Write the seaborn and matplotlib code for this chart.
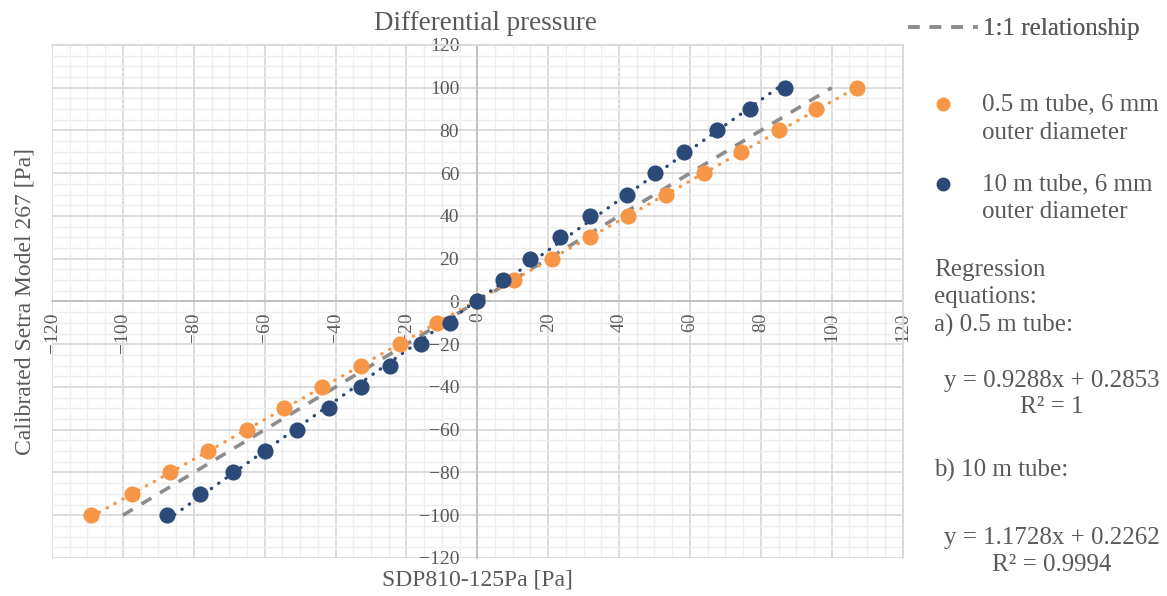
import numpy as np
import pandas as pd
import seaborn as sns
import matplotlib.pyplot as plt
from matplotlib.ticker import MultipleLocator
from matplotlib.lines import Line2D
from matplotlib.legend_handler import HandlerLine2D
from matplotlib.transforms import Affine2D

# Calibration points
setra_pa = [-100, -90, -80, -70, -60, -50, -40, -30, -20, -10, 0,
            10, 20, 30, 40, 50, 60, 70, 80, 90, 100]
sdp_short_tube = [-108.9, -97.3, -86.6, -75.9, -64.9, -54.5, -43.8, -32.8, -21.8, -11.4, 0.0,
                  10.4, 21.1, 31.8, 42.5, 53.2, 63.9, 74.4, 85.1, 95.6, 107.2]
sdp_long_tube = [-87.5, -78.2, -68.9, -59.8, -50.8, -41.8, -32.8, -24.6, -15.9, -7.7, 0.0,
                 7.3, 14.9, 23.3, 31.7, 42.2, 50.1, 58.3, 67.6, 77.0, 86.8]
one_to_one = [-100, 100]

label_short = "0.5 m tube, 6 mm\nouter diameter"
label_long = "10 m tube, 6 mm\nouter diameter"
ticks = [-120, -100, -80, -60, -40, -20, 0, 20, 40, 60, 80, 100, 120]

orange = "#F79646"
navy = "#2C4A78"
grey_txt = "#595959"

df_short = pd.DataFrame({"x": sdp_short_tube, "y": setra_pa})
df_long = pd.DataFrame({"x": sdp_long_tube, "y": setra_pa})


# legend marker sits next to the first line of a two-line label
class TopLineMarker(HandlerLine2D):
    def create_artists(self, legend, orig_handle, xdescent, ydescent,
                       width, height, fontsize, trans):
        arts = super().create_artists(legend, orig_handle, xdescent, ydescent,
                                      width, height, fontsize, trans)
        for a in arts:
            a.set_transform(trans + Affine2D().translate(0, 14))
        return arts


sns.set_theme(style="whitegrid")
plt.rcParams["font.family"] = ["Liberation Serif", "DejaVu Serif"]
plt.rcParams["text.color"] = grey_txt

fig = plt.figure(figsize=(11.67, 5.96), dpi=100)
ax = fig.add_axes([0.0446, 0.0638, 0.7288, 0.8607])
ax.set_facecolor("white")

# 1:1 line
sns.lineplot(x=one_to_one, y=one_to_one, ax=ax, color="#8c8c8c", lw=2.6,
             zorder=3)
ax.lines[-1].set_dashes((3.2, 2.8))

# trendlines
dot = dict(ls=(0, (0.1, 2.6)), lw=2.4, dash_capstyle="round", zorder=3)
sns.regplot(data=df_short, x="x", y="y", scatter=False, ci=None, truncate=True,
            color=orange, line_kws=dot, ax=ax)
sns.regplot(data=df_long, x="x", y="y", scatter=False, ci=None, truncate=True,
            color=navy, line_kws=dot, ax=ax)

# points
sns.scatterplot(data=df_short, x="x", y="y", color=orange, s=135, linewidth=0,
                ax=ax, zorder=4)
sns.scatterplot(data=df_long, x="x", y="y", color=navy, s=135, linewidth=0,
                ax=ax, zorder=5)

ax.set_xlim(-120, 120)
ax.set_ylim(-120, 120)
ax.set_xticks(ticks)
ax.set_yticks(ticks)
ax.xaxis.set_minor_locator(MultipleLocator(5))
ax.yaxis.set_minor_locator(MultipleLocator(5))
ax.grid(which="major", color="#d9d9d9", lw=1.3)
ax.grid(which="minor", color="#eeeeee", lw=1.0)
ax.set_axisbelow(True)

for s in ["left", "bottom"]:
    ax.spines[s].set_position(("data", 0))
    ax.spines[s].set_color("#bfbfbf")
    ax.spines[s].set_linewidth(1.3)
    ax.spines[s].set_zorder(2)
for s in ["top", "right"]:
    ax.spines[s].set_color("#d9d9d9")
    ax.spines[s].set_linewidth(1.3)

ax.tick_params(axis="both", which="both", length=0, labelsize=14,
               labelcolor=grey_txt)
ax.tick_params(axis="y", pad=13)
ax.tick_params(axis="x", pad=8)
for lab in ax.get_xticklabels():
    lab.set_rotation(90)
    lab.set_va("top")
    lab.set_ha("center")

ax.set_xlabel("SDP810-125Pa [Pa]", fontsize=17, color=grey_txt)
ax.set_ylabel("Calibrated Setra Model 267 [Pa]", fontsize=17, color=grey_txt)
ax.xaxis.set_label_coords(0.5, -0.022)
ax.yaxis.set_label_coords(-0.02, 0.5)
ax.set_title("Differential pressure", fontsize=19.5, color=grey_txt, x=0.51, pad=11)

# legends
h1 = [Line2D([0], [0], color="#8c8c8c", lw=2.6, dashes=(3.2, 2.8))]
leg1 = fig.legend(h1, ["1:1 relationship"], loc="upper left",
                  bbox_to_anchor=(0.778, 0.970), frameon=False, fontsize=18,
                  borderpad=0, borderaxespad=0, handlelength=2.8,
                  handletextpad=0.2)
h2 = [Line2D([0], [0], ls="", marker="o", color=orange, markersize=9),
      Line2D([0], [0], ls="", marker="o", color=navy, markersize=9)]
leg2 = fig.legend(h2, [label_short, label_long], loc="upper left",
                  bbox_to_anchor=(0.778, 0.843), frameon=False, fontsize=18,
                  borderpad=0, borderaxespad=0, handlelength=2.8,
                  handletextpad=0.16, labelspacing=1.2,
                  handler_map={Line2D: TopLineMarker()})
for t in leg1.get_texts() + leg2.get_texts():
    t.set_color(grey_txt)
for t in leg2.get_texts():
    t.set_linespacing(1.35)
fig.add_artist(leg1)

fig.text(0.8003, 0.5, "Regression\nequations:\na) 0.5 m tube:", ha="left",
         va="center", fontsize=18, linespacing=1.3)
fig.text(0.9015, 0.339, "y = 0.9288x + 0.2853\nR² = 1", ha="center",
         va="center", fontsize=18, multialignment="center", linespacing=1.25)
fig.text(0.8003, 0.2114, "b) 10 m tube:", ha="left", va="center", fontsize=18)
fig.text(0.9015, 0.0747, "y = 1.1728x + 0.2262\nR² = 0.9994", ha="center",
         va="center", fontsize=18, multialignment="center", linespacing=1.25)

fig.savefig("out.png", dpi=100)
